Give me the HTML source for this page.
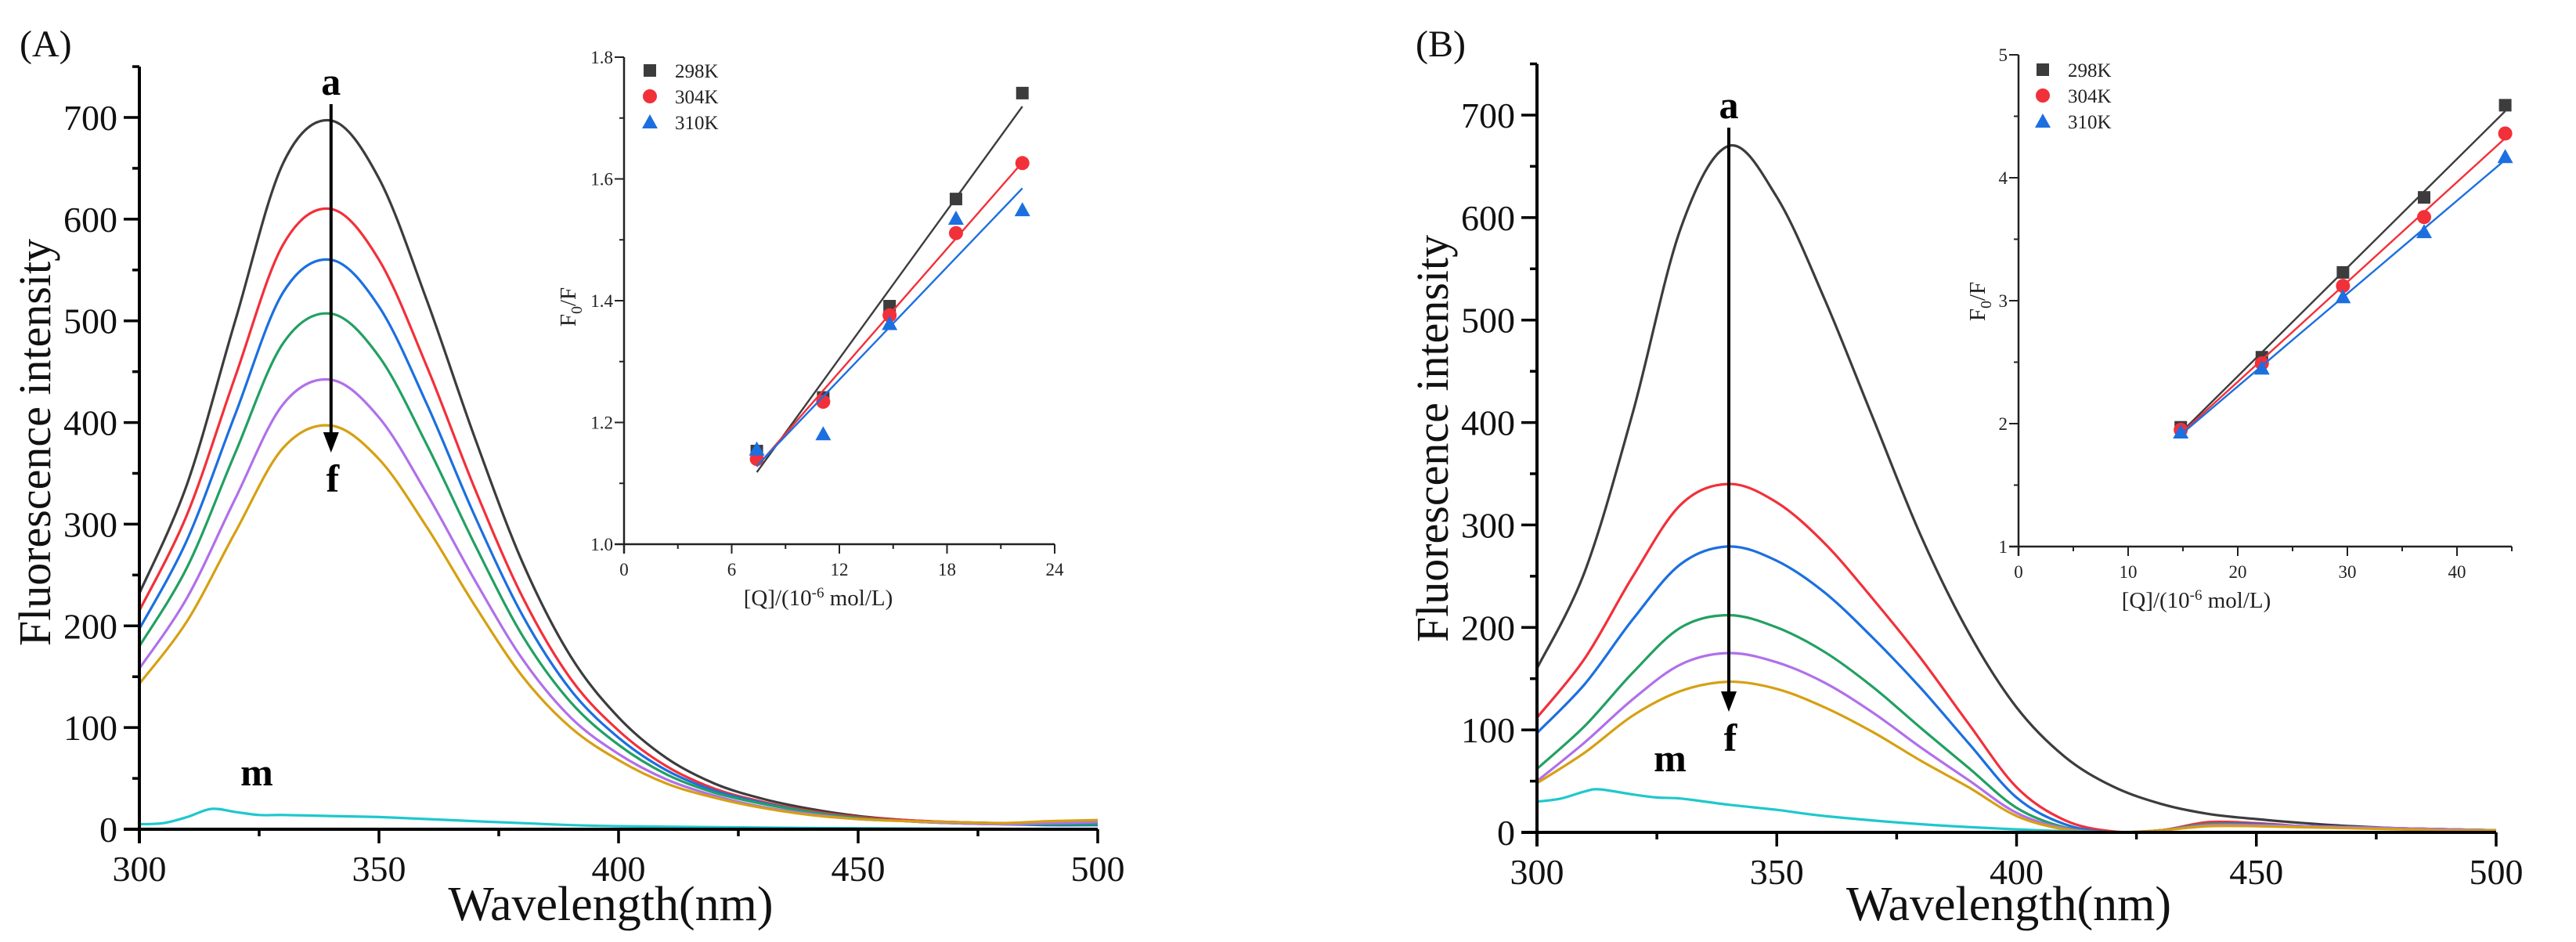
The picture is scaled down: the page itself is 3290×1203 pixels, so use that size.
<!DOCTYPE html>
<html><head><meta charset="utf-8">
<style>
html,body{margin:0;padding:0;background:#fff;}
svg{display:block;font-family:"Liberation Serif",serif;}
</style></head>
<body>
<svg id="fig" width="3290" height="1203" viewBox="0 0 3290 1203" xmlns="http://www.w3.org/2000/svg">
<rect x="0" y="0" width="3290" height="1203" fill="#fff"/>
<g id="gA"></g>
<g id="gB"></g>
</svg>
<script>
// ---- data: main spectra (wavelength nm / intensity) ----
const wl10 = [300,310,320,330,340,350,360,370,380,390,400,410,420,430,440,450,460,470,480,490,500];
const seriesNames = ["a","b","c","d","e","f"];
const seriesColors = ["#3c3c3c","#f2303a","#1c6fe0","#22a062","#b070ea","#d6a012"];
const mColor = "#1ec8cc";
const specA_a = [232,340,500,655,697,640,520,385,262,170,110,70,45,30,20,13,9,7,6,6,6];
const specA_b = [215,310,445,575,610,560,455,335,228,148,97,62,40,27,18,12,9,7,6,7,8];
const specA_c = [197,285,408,528,560,514,418,308,210,137,90,58,38,26,17,11,8,6,5,4,4];
const specA_d = [180,258,370,478,507,465,378,280,190,125,83,54,36,25,17,11,8,6,5,5,5];
const specA_e = [158,228,325,418,442,405,330,245,167,110,74,49,33,22,15,10,8,6,5,6,7];
const specA_f = [143,205,292,375,397,364,297,220,150,100,68,45,31,21,14,10,8,7,6,8,9];
const wlMA = [300,305,310,315,320,325,330,340,350,360,380,400,450,500];
const specA_m = [5,6,12,20,17,14,14,13,12,10,6,3,1,0];
const specB_a = [160,255,410,590,670,620,520,405,290,195,122,74,45,28,18,13,9,6,4,3,2];
const specB_b = [112,170,250,320,340,322,282,228,170,106,44,12,1,2,10,9,6,5,4,3,2];
const specB_c = [97,145,208,262,279,265,234,190,141,87,34,8,0,2,8,8,6,5,4,3,2];
const specB_d = [62,104,156,200,212,200,176,142,102,63,24,5,0,2,8,7,6,5,4,3,2];
const specB_e = [50,88,130,164,175,166,146,117,83,51,19,4,0,2,7,7,6,5,4,3,2];
const specB_f = [48,78,114,138,147,140,122,98,70,44,16,3,0,2,6,6,5,4,3,2,2];
const wlMB = [300,305,310,313,320,325,330,340,350,360,380,400,420,450,500];
const specB_m = [30,33,40,42,37,34,33,27,22,16,8,3,0,0,0];
const mainXTicks = [300,350,400,450,500];
const mainYTicks = [0,100,200,300,400,500,600,700];
// ---- data: Stern-Volmer insets ----
const tempLabels = ["298K","304K","310K"];
const insetColors = ["#3c3c3c","#f2303a","#1c6fe0"];
const qA = [7.4,11.1,14.8,18.5,22.2];
const svA_298 = [1.153,1.241,1.391,1.567,1.741];
const svA_304 = [1.140,1.234,1.376,1.511,1.626];
const svA_310 = [1.156,1.181,1.362,1.535,1.549];
const qB = [14.8,22.2,29.6,37.0,44.4];
const svB_298 = [1.97,2.54,3.23,3.84,4.59];
const svB_304 = [1.95,2.49,3.12,3.68,4.36];
const svB_310 = [1.93,2.45,3.03,3.56,4.17];
const insetAXTicks = [0,6,12,18,24];
const insetAYTicks = [1.0,1.2,1.4,1.6,1.8];
const insetBXTicks = [0,10,20,30,40];
const insetBYTicks = [1,2,3,4,5];

const NS="http://www.w3.org/2000/svg";
function el(parent,tag,attrs,text){const e=document.createElementNS(NS,tag);for(const k in attrs)e.setAttribute(k,attrs[k]);if(text!==undefined)e.textContent=text;parent.appendChild(e);return e;}
function lin(d0,d1,r0,r1){return v=>r0+(v-d0)*(r1-r0)/(d1-d0);}
function smoothPath(pts){
  let d="M"+pts[0][0].toFixed(1)+","+pts[0][1].toFixed(1);
  for(let i=0;i<pts.length-1;i++){
    const p0=pts[Math.max(0,i-1)],p1=pts[i],p2=pts[i+1],p3=pts[Math.min(pts.length-1,i+2)];
    const c1x=p1[0]+(p2[0]-p0[0])/6,c1y=p1[1]+(p2[1]-p0[1])/6;
    const c2x=p2[0]-(p3[0]-p1[0])/6,c2y=p2[1]-(p3[1]-p1[1])/6;
    d+=" C"+c1x.toFixed(1)+","+c1y.toFixed(1)+" "+c2x.toFixed(1)+","+c2y.toFixed(1)+" "+p2[0].toFixed(1)+","+p2[1].toFixed(1);
  }
  return d;
}

function mainPanel(g,cfg){
  const X=lin(300,500,cfg.x0,cfg.x1), Y=lin(0,700,cfg.y0,cfg.y700);
  const yTop=Y(750);
  cfg.series.forEach((s,i)=>{
    const pts=wl10.map((w,j)=>[X(w),Y(s[j])]);
    const p=el(g,"path",{d:smoothPath(pts),fill:"none",stroke:seriesColors[i],"stroke-width":3.2});
    
    
  });
  const mp=el(g,"path",{d:smoothPath(cfg.mwl.map((w,j)=>[X(w),Y(cfg.m[j])])),fill:"none",stroke:mColor,"stroke-width":3.2});
  
  
  const ax=el(g,"g",{});
  
  
  el(ax,"line",{x1:X(300),y1:yTop,x2:X(300),y2:Y(0)+18,stroke:"#000","stroke-width":4});
  el(ax,"line",{x1:X(300)-20,y1:Y(0),x2:X(500),y2:Y(0),stroke:"#000","stroke-width":4});
  for(let v=0;v<=750;v+=50){
    const major=v%100===0;
    el(ax,"line",{x1:X(300)-(major?20:9),y1:Y(v),x2:X(300),y2:Y(v),stroke:"#000","stroke-width":3.5});
  }
  for(let w=300;w<=500;w+=25){
    const major=w%50===0;
    el(ax,"line",{x1:X(w),y1:Y(0),x2:X(w),y2:Y(0)+(major?18:9),stroke:"#000","stroke-width":3.5});
  }
  mainYTicks.forEach(v=>{const t=el(ax,"text",{x:X(300)-28,y:Y(v)+16,"font-size":46,"text-anchor":"end",fill:"#111"},String(v));
    
    });
  mainXTicks.forEach(v=>{const t=el(ax,"text",{x:X(v),y:Y(0)+66,"font-size":46,"text-anchor":"middle",fill:"#111"},String(v));
    
    });
  const yt=el(g,"text",{x:0,y:0,"font-size":58,"text-anchor":"middle",fill:"#111",transform:`translate(${cfg.ytx},${cfg.yty}) rotate(-90)`},"Fluorescence intensity");
  
  
  const xt=el(g,"text",{x:(X(300)+X(500))/2-10,y:1175,"font-size":62,"text-anchor":"middle",fill:"#111"},"Wavelength(nm)");
  
  
  const pl=el(g,"text",{x:cfg.plx,y:72,"font-size":48,fill:"#111"},cfg.label);
  
  
  const axX=X(340);
  const arr=el(g,"g",{});
  
  
  el(arr,"line",{x1:axX,y1:cfg.arTop,x2:axX,y2:cfg.arTip-20,stroke:"#000","stroke-width":4});
  el(arr,"polygon",{points:`${axX-10},${cfg.arTip-26} ${axX+10},${cfg.arTip-26} ${axX},${cfg.arTip}`,fill:"#000"});
  const la=el(g,"text",{x:axX,y:cfg.arTop-12,"font-size":50,"font-weight":"bold","text-anchor":"middle",fill:"#000"},"a");
  
  
  const lf=el(g,"text",{x:axX+2,y:cfg.arTip+50,"font-size":50,"font-weight":"bold","text-anchor":"middle",fill:"#000"},"f");
  
  
  const lm=el(g,"text",{x:cfg.mx,y:cfg.my,"font-size":50,"font-weight":"bold","text-anchor":"middle",fill:"#000"},"m");
  
  
}

function fit(xs,ys){const n=xs.length;let sx=0,sy=0,sxx=0,sxy=0;for(let i=0;i<n;i++){sx+=xs[i];sy+=ys[i];sxx+=xs[i]*xs[i];sxy+=xs[i]*ys[i];}
  const b=(n*sxy-sx*sy)/(n*sxx-sx*sx);return [b,(sy-b*sx)/n];}

function marker(g,kind,x,y,color){
  let m;
  if(kind===0) m=el(g,"rect",{x:x-8,y:y-8,width:16,height:16,fill:color});
  else if(kind===1) m=el(g,"circle",{cx:x,cy:y,r:9,fill:color});
  else m=el(g,"polygon",{points:`${x},${y-10} ${x-10},${y+8} ${x+10},${y+8}`,fill:color});
  return m;
}

function inset(g,cfg){
  const X=lin(cfg.xd0,cfg.xd1,cfg.x0,cfg.x1), Y=lin(cfg.yd0,cfg.yd1,cfg.y0,cfg.y1);
  cfg.ys.forEach((ys,i)=>{
    const [b,a]=fit(cfg.q,ys);
    const q0=cfg.q[0],q1=cfg.q[cfg.q.length-1];
    const ln=el(g,"line",{x1:X(q0),y1:Y(a+b*q0),x2:X(q1),y2:Y(a+b*q1),stroke:insetColors[i],"stroke-width":2.4});
    
    
    cfg.q.forEach((q,j)=>{const m=marker(g,i,X(q),Y(ys[j]),insetColors[i]);
      
      });
    const lm=marker(g,i,cfg.legX,cfg.legY+i*33,insetColors[i]);
    
    
    const lt=el(g,"text",{x:cfg.legX+32,y:cfg.legY+i*33+9,"font-size":25,fill:"#222"},tempLabels[i]);
    
    
  });
  const ax=el(g,"g",{});
  
  
  el(ax,"line",{x1:X(cfg.xd0),y1:Y(cfg.yd1),x2:X(cfg.xd0),y2:Y(cfg.yd0)+12,stroke:"#222","stroke-width":2.5});
  el(ax,"line",{x1:X(cfg.xd0)-12,y1:Y(cfg.yd0),x2:X(cfg.xd1),y2:Y(cfg.yd0),stroke:"#222","stroke-width":2.5});
  cfg.yMinor.forEach(v=>el(ax,"line",{x1:X(cfg.xd0)-6,y1:Y(v),x2:X(cfg.xd0),y2:Y(v),stroke:"#222","stroke-width":2}));
  cfg.yt.forEach(v=>{el(ax,"line",{x1:X(cfg.xd0)-12,y1:Y(v),x2:X(cfg.xd0),y2:Y(v),stroke:"#222","stroke-width":2});
    const t=el(ax,"text",{x:X(cfg.xd0)-14,y:Y(v)+8,"font-size":23,"text-anchor":"end",fill:"#222"},cfg.yfmt(v));
    
    });
  cfg.xMinor.forEach(v=>el(ax,"line",{x1:X(v),y1:Y(cfg.yd0),x2:X(v),y2:Y(cfg.yd0)+6,stroke:"#222","stroke-width":2}));
  cfg.xt.forEach(v=>{el(ax,"line",{x1:X(v),y1:Y(cfg.yd0),x2:X(v),y2:Y(cfg.yd0)+12,stroke:"#222","stroke-width":2});
    const t=el(ax,"text",{x:X(v),y:Y(cfg.yd0)+40,"font-size":23,"text-anchor":"middle",fill:"#222"},String(v));
    
    });
  const xl=el(g,"text",{x:cfg.xlx,y:Y(cfg.yd0)+78,"font-size":29,"text-anchor":"middle",fill:"#222"});
  
  
  el(xl,"tspan",{},"[Q]/(10");
  el(xl,"tspan",{dy:-10,"font-size":19},"-6");
  el(xl,"tspan",{dy:10}," mol/L)");
  const yl=el(g,"text",{x:0,y:0,"font-size":29,"text-anchor":"middle",fill:"#222",transform:`translate(${cfg.ylx},${cfg.yly}) rotate(-90)`});
  
  
  el(yl,"tspan",{},"F");
  el(yl,"tspan",{dy:8,"font-size":20},"0");
  el(yl,"tspan",{dy:-8},"/F");
}

const gA=document.getElementById("gA"), gB=document.getElementById("gB");
mainPanel(gA,{x0:178,x1:1402,y0:1059,y700:150,series:[specA_a,specA_b,specA_c,specA_d,specA_e,specA_f],mwl:wlMA,m:specA_m,
  ytx:64,yty:565,plx:25,label:"(A)",arTop:133,arTip:578,mx:328,my:1003});
mainPanel(gB,{x0:1963,x1:3188,y0:1063,y700:147,series:[specB_a,specB_b,specB_c,specB_d,specB_e,specB_f],mwl:wlMB,m:specB_m,
  ytx:1849,yty:560,plx:1808,label:"(B)",arTop:163,arTip:909,mx:2133,my:985});

inset(gA,{xd0:0,xd1:24,x0:797,x1:1347,yd0:1.0,yd1:1.8,y0:695,y1:73,q:qA,ys:[svA_298,svA_304,svA_310],
  xt:insetAXTicks,xMinor:[3,9,15,21],yt:insetAYTicks,yMinor:[1.1,1.3,1.5,1.7],yfmt:v=>v.toFixed(1),
  legX:830,legY:90,xlx:1045,ylx:735,yly:392});
inset(gB,{xd0:0,xd1:45,x0:2578,x1:3208,yd0:1,yd1:5,y0:698,y1:70,q:qB,ys:[svB_298,svB_304,svB_310],
  xt:insetBXTicks,xMinor:[5,15,25,35,45],yt:insetBYTicks,yMinor:[1.5,2.5,3.5,4.5],yfmt:v=>String(v),
  legX:2609,legY:89,xlx:2805,ylx:2535,yly:385});
</script>
</body></html>
